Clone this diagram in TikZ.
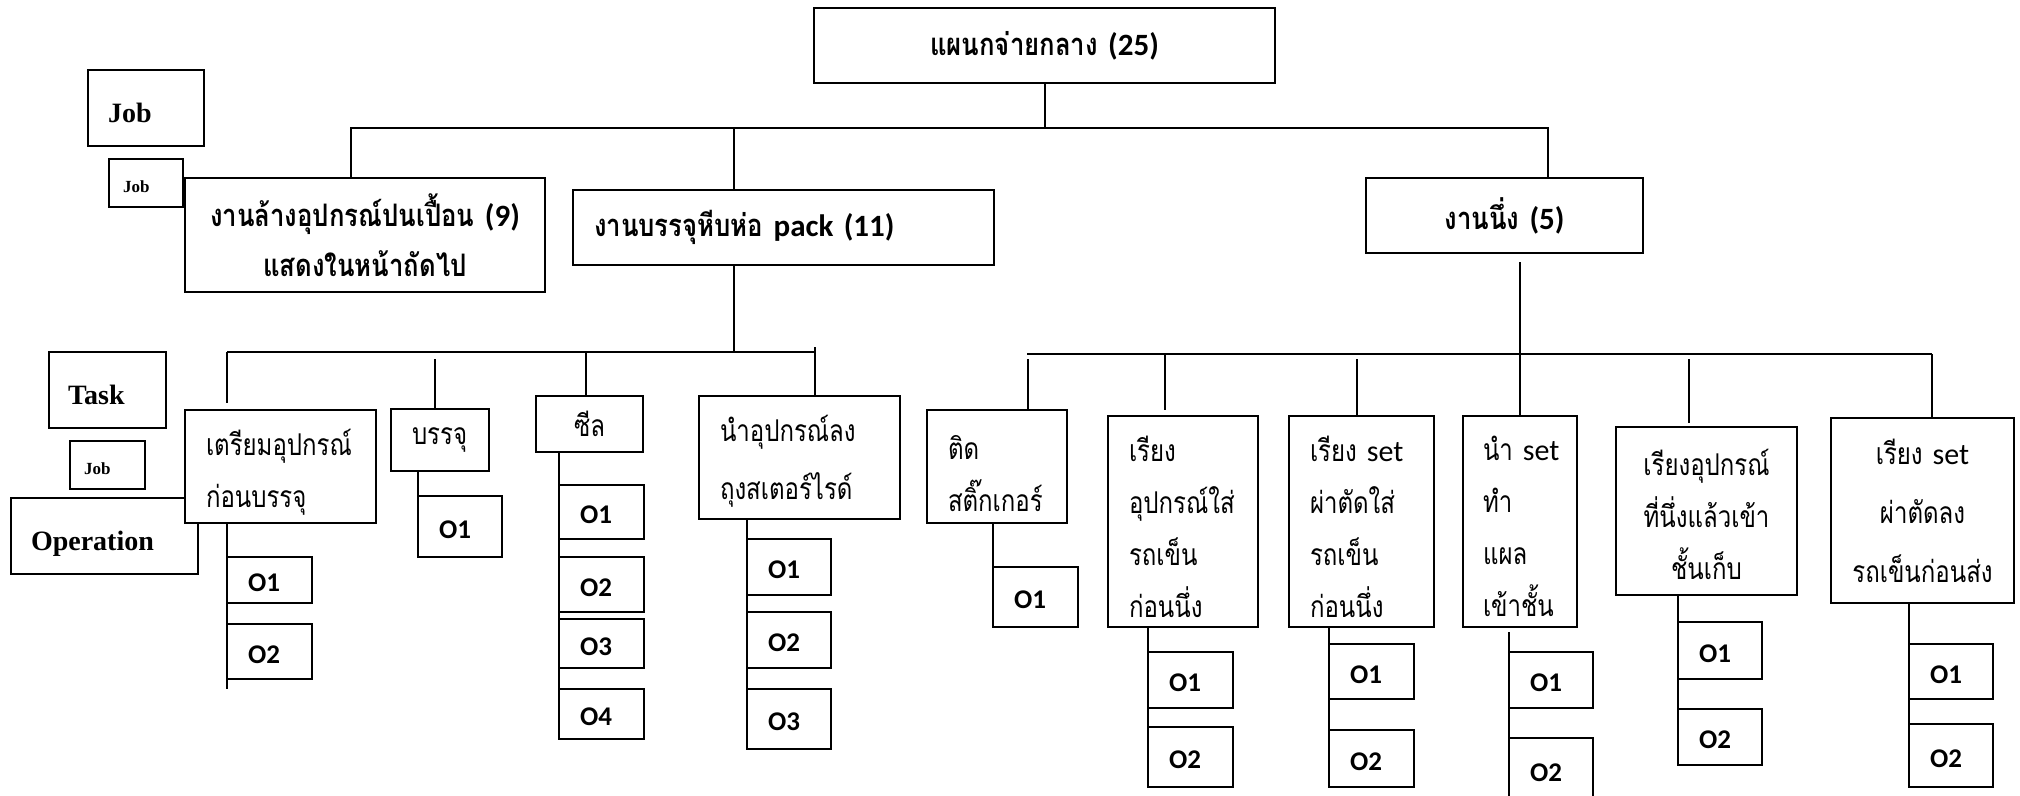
\documentclass[tikz,border=0pt]{standalone}
\usepackage{fontspec}
\setmainfont{Liberation Serif}
\newfontfamily\thai[Script=Thai,FakeStretch=0.8]{Loma}
\newfontfamily\thaib[Script=Thai,FakeStretch=0.83]{Loma}
\newfontfamily\lat{Carlito}

% box padding (left/right), in pt
\newcommand\bxpad{21}
% \mkbox{style}{name}{x1}{y1}{x2}{y2}{text}: a framed box between two corners
\newcommand\mkbox[7]{%
  \pgfmathsetmacro\mbw{#5-#3}%
  \pgfmathsetmacro\mbh{#6-#4}%
  \pgfmathsetmacro\mbt{#5-#3-2*\bxpad}%
  \pgfmathsetmacro\mbx{(#3+#5)/2}%
  \pgfmathsetmacro\mby{(#4+#6)/2}%
  \node[boxed,#1,minimum width=\mbw pt,minimum height=\mbh pt,
        inner xsep=\bxpad pt,text width=\mbt pt] (#2) at (\mbx,\mby) {#7};}

\tikzset{
  boxed/.style={draw, line width=2.4pt, fill=white, inner ysep=0pt, outer sep=0pt},
  conn/.style={line width=2pt},
  legend/.style={font=\bfseries\fontsize{28}{32}\selectfont, align=left,
                 text height=28pt, text depth=0pt},
  legendsm/.style={font=\bfseries\fontsize{17}{20}\selectfont, align=left,
                 text height=19pt, text depth=0pt},
  jobbox/.style={font=\thaib\bfseries\fontsize{31}{50}\selectfont},
  taskbox/.style={font=\thai\fontsize{30}{52}\selectfont},
  % a taller first line pushes the block of lines down a little
  lowered/.style={execute at begin node={\rule{0pt}{#1}}},
  opbox/.style={font=\lat\bfseries\fontsize{27}{30}\selectfont, align=left,
                text height=23pt, text depth=0pt},
}

\begin{document}
\begin{tikzpicture}[x=1pt,y=-1pt]
\useasboundingbox (0,0) rectangle (2020,795);
\fill[white] (0,0) rectangle (2020,795);
\clip (0,0) rectangle (2020,795);

% ---------- legend ----------
\renewcommand\bxpad{20}
\mkbox{legend}{legOp}{11}{498}{198}{574}{Operation}
\mkbox{legend}{legJob}{88}{70}{204}{146}{Job}
\renewcommand\bxpad{19}
\mkbox{legend}{legTask}{49}{352}{166}{428}{Task}
\renewcommand\bxpad{14}
\mkbox{legendsm}{legJobA}{109}{159}{183}{207}{Job}
\mkbox{legendsm}{legJobB}{70}{441}{145}{489}{Job}

% ---------- department and jobs ----------
\renewcommand\bxpad{4}
\mkbox{jobbox,align=center}{top}{814}{8}{1275}{83}{แผนกจ่ายกลาง~{\lat(25)}}
\mkbox{jobbox,align=center}{wash}{185}{178}{545}{292}{งานล้างอุปกรณ์ปนเปื้อน~{\lat(9)}\\แสดงในหน้าถัดไป}
\mkbox{jobbox,align=center}{steam}{1366}{178}{1643}{253}{งานนึ่ง~{\lat(5)}}
\renewcommand\bxpad{21}
\mkbox{jobbox,align=left}{pack}{573}{190}{994}{265}{งานบรรจุหีบห่อ~{\lat pack~(11)}}

% ---------- tasks of the packing job ----------
\mkbox{taskbox,lowered=37pt,align=left}{t1}{185}{410}{376}{523}{เตรียมอุปกรณ์\\ก่อนบรรจุ}
\mkbox{taskbox,align=left}{t2}{391}{409}{489}{471}{บรรจุ}
\mkbox{taskbox,align=center}{t3}{536}{396}{643}{452}{ซีล}
\mkbox{taskbox,lowered=33pt,align=left,font=\thai\fontsize{30}{58}\selectfont}{t4}{699}{396}{900}{519}{นำอุปกรณ์ลง\\ถุงสเตอร์ไรด์}

% ---------- tasks of the steaming job ----------
\mkbox{taskbox,lowered=38pt,align=left}{s1}{927}{410}{1067}{523}{ติด\\สติ๊กเกอร์}
\mkbox{taskbox,lowered=36pt,align=left}{s2}{1108}{416}{1258}{627}{เรียง\\อุปกรณ์ใส่\\รถเข็น\\ก่อนนึ่ง}
\mkbox{taskbox,lowered=36pt,align=left}{s3}{1289}{416}{1434}{627}{เรียง~{\lat set}\\ผ่าตัดใส่\\รถเข็น\\ก่อนนึ่ง}
\renewcommand\bxpad{20}
\mkbox{taskbox,lowered=35pt,align=left}{s4}{1463}{416}{1577}{627}{นำ~{\lat set}\\ทำ\\แผล\\เข้าชั้น}
\renewcommand\bxpad{4}
\mkbox{taskbox,lowered=33pt,align=center}{s5}{1616}{427}{1797}{595}{เรียงอุปกรณ์\\ที่นึ่งแล้วเข้า\\ชั้นเก็บ}
\mkbox{taskbox,align=center,font=\thai\fontsize{30}{59}\selectfont}{s6}{1831}{418}{2014}{603}{เรียง~{\lat set}\\ผ่าตัดลง\\รถเข็นก่อนส่ง}

% ---------- operations ----------
\renewcommand\bxpad{21}
\mkbox{opbox}{o-t1-1}{227}{557}{312}{603}{O1}
\mkbox{opbox}{o-t1-2}{227}{624}{312}{679}{O2}
\mkbox{opbox}{o-t2-1}{418}{496}{502}{557}{O1}
\mkbox{opbox}{o-t3-1}{559}{485}{644}{539}{O1}
\mkbox{opbox}{o-t3-2}{559}{557}{644}{612}{O2}
\mkbox{opbox}{o-t3-3}{559}{619}{644}{668}{O3}
\mkbox{opbox}{o-t3-4}{559}{689}{644}{739}{O4}
\mkbox{opbox}{o-t4-1}{747}{539}{831}{595}{O1}
\mkbox{opbox}{o-t4-2}{747}{612}{831}{668}{O2}
\mkbox{opbox}{o-t4-3}{747}{689}{831}{749}{O3}
\mkbox{opbox}{o-s1-1}{993}{567}{1078}{627}{O1}
\mkbox{opbox}{o-s2-1}{1148}{652}{1233}{708}{O1}
\mkbox{opbox}{o-s2-2}{1148}{727}{1233}{787}{O2}
\mkbox{opbox}{o-s3-1}{1329}{644}{1414}{699}{O1}
\mkbox{opbox}{o-s3-2}{1329}{730}{1414}{787}{O2}
\mkbox{opbox}{o-s4-1}{1509}{652}{1593}{708}{O1}
\mkbox{opbox}{o-s4-2}{1509}{738}{1593}{802}{O2}
\mkbox{opbox}{o-s5-1}{1678}{622}{1762}{679}{O1}
\mkbox{opbox}{o-s5-2}{1678}{709}{1762}{765}{O2}
\mkbox{opbox}{o-s6-1}{1909}{644}{1993}{699}{O1}
\mkbox{opbox}{o-s6-2}{1909}{724}{1993}{787}{O2}

% ---------- bus junctions ----------
\coordinate (b1-wash)  at (351,128);
\coordinate (b1-pack)  at (734,128);
\coordinate (b1-steam) at (1548,128);
\coordinate (b2-pack)  at (734,352);
\coordinate (b2-t1) at (227,352);
\coordinate (b2-t2) at (435,352);
\coordinate (b2-t3) at (586,352);
\coordinate (b2-t4) at (815,352);
\coordinate (b3-s1) at (1028,354);
\coordinate (b3-s2) at (1165,354);
\coordinate (b3-s3) at (1357,354);
\coordinate (b3-s4) at (1520,354);
\coordinate (b3-s5) at (1689,354);
\coordinate (b3-s6) at (1932,354);
\coordinate (sp-t1) at (227,689);

% department to jobs
\draw[conn] (top.south) -- (top.south |- b1-wash);
\draw[conn] (b1-wash |- wash.north) -- (b1-wash) -- (b1-steam) -- (b1-steam |- steam.north);
\draw[conn] (b1-pack) -- (b1-pack |- pack.north);

% packing job to its tasks
\draw[conn] (pack.south -| b2-pack) -- (b2-pack);
\draw[conn] (b2-t1) -- (b2-t4);
\draw[conn, shorten >=7pt] (b2-t1) -- (b2-t1 |- t1.north);
\draw[conn, shorten <=7pt] (b2-t2) -- (b2-t2 |- t2.north);
\draw[conn] (b2-t3) -- (b2-t3 |- t3.north);
\draw[conn, shorten <=-5pt] (b2-t4) -- (b2-t4 |- t4.north);

% steaming job to its tasks
\draw[conn] ([xshift=-1pt]b3-s1) -- (b3-s6);
\draw[conn, shorten <=9pt] (steam.south -| b3-s4) -- (s4.north -| b3-s4);
\draw[conn, shorten <=5pt] (b3-s1) -- (b3-s1 |- s1.north);
\draw[conn, shorten >=6pt] (b3-s2) -- (b3-s2 |- s2.north);
\draw[conn, shorten <=5pt] (b3-s3) -- (b3-s3 |- s3.north);
\draw[conn, shorten <=5pt, shorten >=4pt] (b3-s5) -- (b3-s5 |- s5.north);
\draw[conn] (b3-s6) -- (b3-s6 |- s6.north);

% tasks to operations
\draw[conn] (t1.south -| o-t1-1.west) -- (sp-t1);
\draw[conn] (t2.south -| o-t2-1.west) -- (o-t2-1.north west);
\draw[conn] (t3.south -| o-t3-4.west) -- (o-t3-4.south west);
\draw[conn] (t4.south -| o-t4-3.west) -- (o-t4-3.south west);
\draw[conn] (s1.south -| o-s1-1.west) -- (o-s1-1.north west);
\draw[conn] (s2.south -| o-s2-2.west) -- (o-s2-2.south west);
\draw[conn] (s3.south -| o-s3-2.west) -- (o-s3-2.south west);
\draw[conn, shorten <=5pt] (s4.south -| o-s4-2.west) -- (o-s4-2.south west);
\draw[conn] (s5.south -| o-s5-2.west) -- (o-s5-2.south west);
\draw[conn] (s6.south -| o-s6-2.west) -- (o-s6-2.south west);
\end{tikzpicture}
\end{document}
